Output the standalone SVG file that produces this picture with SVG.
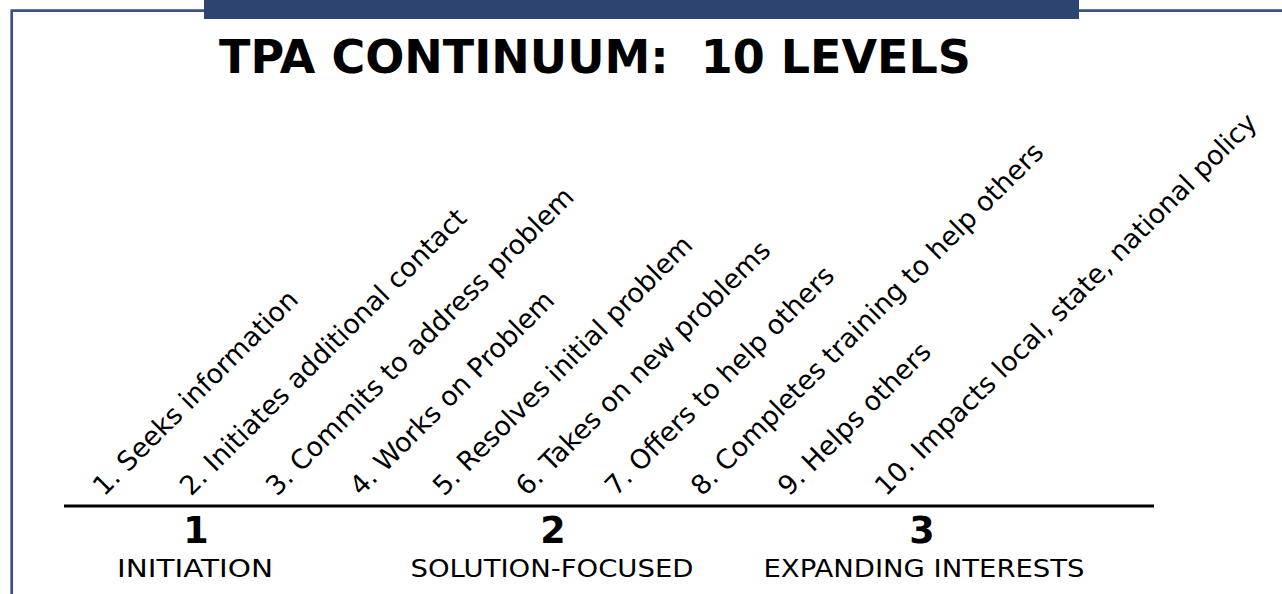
<svg xmlns="http://www.w3.org/2000/svg" width="1282" height="594" viewBox="0 0 1282 594">
<style>
.frame{fill:none;stroke:#3A5186;stroke-width:2.7}
.title{font-family:"DejaVu Sans",Verdana,sans-serif;font-weight:bold;font-size:46px;fill:#000;white-space:pre}
.lvl{font-family:"DejaVu Sans",Verdana,sans-serif;font-size:26.8px;fill:#000}
.num{font-family:"DejaVu Sans",Verdana,sans-serif;font-weight:bold;font-size:36.5px;fill:#000;text-anchor:middle}
.stage{font-family:"DejaVu Sans",Verdana,sans-serif;font-size:24.5px;fill:#000;text-anchor:middle}
</style>
<rect width="1282" height="594" fill="#fff"/>
<g id="frame">
<path class="frame" d="M11.7,594 V10.7 H1282"/>
<rect x="204" y="0" width="875" height="19" fill="#2E4470"/>
</g>
<text id="title" class="title" x="595" y="72.5" text-anchor="middle" xml:space="preserve">TPA CONTINUUM:  10 LEVELS</text>
<g id="levels">
<text class="lvl" transform="translate(104,497) rotate(-45)">1. Seeks information</text>
<text class="lvl" transform="translate(191,497) rotate(-45)">2. Initiates additional contact</text>
<text class="lvl" transform="translate(277,497) rotate(-45)">3. Commits to address problem</text>
<text class="lvl" transform="translate(361,497) rotate(-45)">4. Works on Problem</text>
<text class="lvl" transform="translate(444,497) rotate(-45)">5. Resolves initial problem</text>
<text class="lvl" transform="translate(527,497) rotate(-45)">6. Takes on new problems</text>
<text class="lvl" transform="translate(616,497) rotate(-45)">7. Offers to help others</text>
<text class="lvl" transform="translate(702,497) rotate(-45)">8. Completes training to help others</text>
<text class="lvl" transform="translate(789,497) rotate(-45)">9. Helps others</text>
<text class="lvl" transform="translate(886,497) rotate(-45)">10. Impacts local, state, national policy</text>
</g>
<g id="axis">
<line x1="64" y1="506" x2="1154" y2="506" stroke="#000" stroke-width="3"/>
</g>
<g id="stage1">
<text class="num" x="196" y="543">1</text>
<text class="stage" x="195" y="577" textLength="156" lengthAdjust="spacingAndGlyphs">INITIATION</text>
</g>
<g id="stage2">
<text class="num" x="553" y="543">2</text>
<text class="stage" x="552" y="577" textLength="283" lengthAdjust="spacingAndGlyphs">SOLUTION-FOCUSED</text>
</g>
<g id="stage3">
<text class="num" x="922" y="543">3</text>
<text class="stage" x="924" y="577" textLength="321" lengthAdjust="spacingAndGlyphs">EXPANDING INTERESTS</text>
</g>
</svg>
